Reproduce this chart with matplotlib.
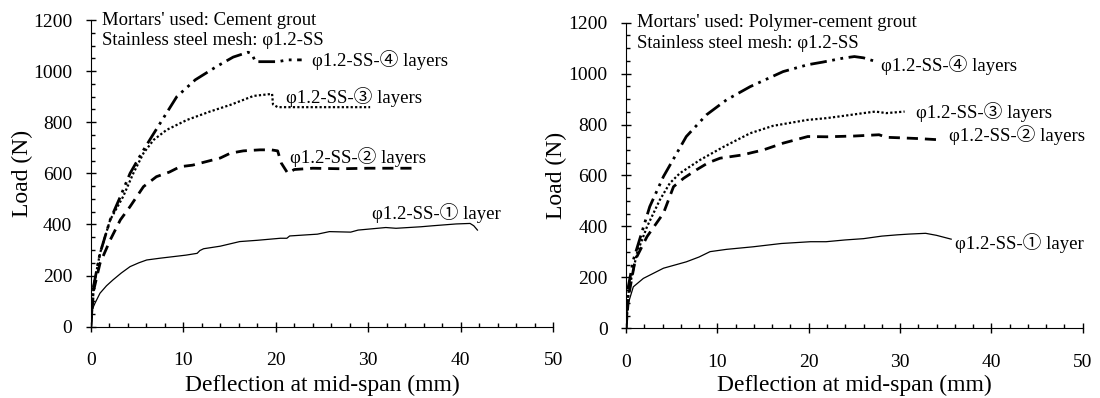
import matplotlib
matplotlib.use("Agg")
import matplotlib.pyplot as plt
from matplotlib.ticker import MultipleLocator

# circled digits are missing in Liberation Serif, so fall back to a CJK face
plt.rcParams['font.family'] = ['Liberation Serif', 'Noto Sans CJK JP', 'DejaVu Sans']

# left panel: cement grout
l1_x = [0, 0.1, 0.25, 0.46, 1.0, 1.7, 2.4, 3.3, 4.25, 5.2, 6.05, 7.5, 8.9, 10.3, 11.5, 11.8, 12.2, 14, 16.1, 18, 20.5, 21.2, 21.5, 23.2, 24.5, 25.8, 28.1, 28.9, 31.9, 33, 35.7, 37, 39.5, 41.0, 41.4, 41.8]
l1_y = [0, 50, 75, 92, 131, 160, 183, 210, 235, 250, 261, 268, 274, 280, 287, 298, 305, 315, 333, 338, 346, 346, 355, 359, 362, 372, 370, 378, 388, 385, 391, 395, 402, 404, 395, 378]
l2_x = [0, 0.3, 1.0, 2.1, 3.2, 4.25, 5.7, 7.1, 8.5, 9.65, 11, 12.5, 14, 15.1, 16.5, 18.3, 19.5, 20.2, 20.6, 21.3, 22, 24, 27, 30, 35]
l2_y = [0, 140, 248, 339, 418, 470, 548, 587, 605, 626, 632, 646, 660, 679, 688, 692, 692, 688, 640, 600, 615, 620, 618, 620, 620]
l3_x = [0, 0.3, 1.0, 2.1, 3.5, 4.6, 5.7, 6.8, 8.2, 10.4, 12.9, 15.1, 17.6, 19.6, 19.7, 20.2, 25, 30.2]
l3_y = [0, 157, 287, 418, 509, 600, 679, 731, 770, 809, 842, 868, 903, 911, 870, 859, 859, 859]
l4_x = [0, 0.3, 1.0, 2.1, 3.2, 4.25, 5.5, 6.6, 7.5, 9.3, 11.3, 13.6, 15.4, 17.0, 17.4, 17.8, 19.0, 20.2, 21.3, 22.8]
l4_y = [0, 157, 287, 418, 509, 600, 679, 744, 796, 900, 966, 1018, 1055, 1074, 1068, 1037, 1037, 1037, 1044, 1044]

# right panel: polymer-cement grout
r1_x = [0, 0.1, 0.25, 0.8, 1.9, 4.1, 6.6, 8, 9.2, 11, 13.9, 17, 20.2, 21.9, 24, 26, 28, 29.7, 31, 32.8, 34, 35.6]
r1_y = [0, 60, 98, 163, 196, 236, 261, 280, 301, 310, 320, 333, 340, 340, 347, 352, 362, 367, 370, 373, 365, 350]
r2_x = [0, 0.3, 1.0, 2.3, 4.1, 5.2, 6.3, 7.7, 9, 10.3, 12.8, 13.8, 15.0, 17.2, 19.9, 22, 25, 27.7, 28.5, 30, 32, 34.4]
r2_y = [0, 130, 268, 360, 452, 556, 589, 622, 650, 668, 681, 690, 700, 727, 753, 752, 755, 760, 750, 748, 745, 740]
r3_x = [0, 0.3, 1.2, 2.3, 3.7, 4.8, 5.9, 8.1, 10.7, 13.6, 16.1, 19.8, 21.9, 24, 26, 27.3, 28.5, 30.5]
r3_y = [0, 150, 295, 399, 504, 570, 609, 661, 713, 766, 795, 818, 825, 835, 845, 851, 845, 851]
r4_x = [0, 0.25, 0.8, 1.7, 2.6, 4.1, 5.55, 6.6, 8.8, 11.0, 13.6, 17.2, 19.9, 21.5, 23.8, 25.0, 26, 27.3]
r4_y = [0, 163, 268, 373, 478, 596, 687, 753, 838, 897, 949, 1008, 1035, 1045, 1061, 1067, 1062, 1048]

mortars = ["Cement grout", "Polymer-cement grout"]
labels = ['φ1.2-SS-① layer', 'φ1.2-SS-② layers', 'φ1.2-SS-③ layers', 'φ1.2-SS-④ layers']
l_lab_x = [30.4, 21.5, 21.1, 23.9]
l_lab_y = [444, 665, 900, 1044]
r_lab_x = [36.0, 35.4, 31.7, 27.9]
r_lab_y = [334, 760, 851, 1035]

fig = plt.figure(figsize=(11, 3.98), dpi=100)
ax_l = fig.add_axes([0.0825, 0.1792, 0.4205, 0.7705])
ax_r = fig.add_axes([0.5691, 0.1751, 0.4152, 0.7679])

styles = [
    dict(color='black', lw=0.9, ls='-'),
    dict(color='black', lw=2.0, ls=(0, (4, 2.5))),
    dict(color='black', lw=1.6, ls=(0, (1, 1))),
    dict(color='black', lw=2.0, ls=(0, (6, 2, 1, 2, 1, 2))),
]

for (x, y), st in zip([(l1_x, l1_y), (l2_x, l2_y), (l3_x, l3_y), (l4_x, l4_y)], styles):
    ax_l.plot(x, y, **st)
for (x, y), st in zip([(r1_x, r1_y), (r2_x, r2_y), (r3_x, r3_y), (r4_x, r4_y)], styles):
    ax_r.plot(x, y, **st)

lab_fs = 13.5
for t, x, y in zip(labels, l_lab_x, l_lab_y):
    ax_l.text(x, y, t, fontsize=lab_fs, va='center')
for t, x, y in zip(labels, r_lab_x, r_lab_y):
    ax_r.text(x, y, t, fontsize=lab_fs, va='center')

for ax, m, xl, yl in zip([ax_l, ax_r], mortars, [-0.190, -0.186], [-0.1485, -0.153]):
    ax.text(1.2, 1200, "Mortars' used: " + m, fontsize=lab_fs, va='center')
    ax.text(1.2, 1118, "Stainless steel mesh: φ1.2-SS", fontsize=lab_fs, va='center')
    ax.set_xlim(0, 50)
    ax.set_ylim(0, 1200)
    ax.spines['top'].set_visible(False)
    ax.spines['right'].set_visible(False)
    ax.xaxis.set_major_locator(MultipleLocator(10))
    ax.xaxis.set_minor_locator(MultipleLocator(2))
    ax.yaxis.set_major_locator(MultipleLocator(200))
    ax.yaxis.set_minor_locator(MultipleLocator(50))
    ax.tick_params(which='major', direction='inout', length=6.5, width=1, labelsize=14)
    ax.tick_params(which='minor', direction='in', length=3, width=1)
    ax.tick_params(axis='x', which='major', pad=15)
    ax.tick_params(axis='y', which='major', pad=10)
    ax.set_xlabel('Deflection at mid-span (mm)', fontsize=17)
    ax.set_ylabel('Load (N)', fontsize=17)
    ax.xaxis.set_label_coords(0.5, xl)
    ax.xaxis.label.set_va('center')
    ax.yaxis.set_label_coords(yl, 0.5)
    ax.yaxis.label.set_va('center')
    ax.patch.set_alpha(0)

fig.savefig('out.png', dpi=100)
